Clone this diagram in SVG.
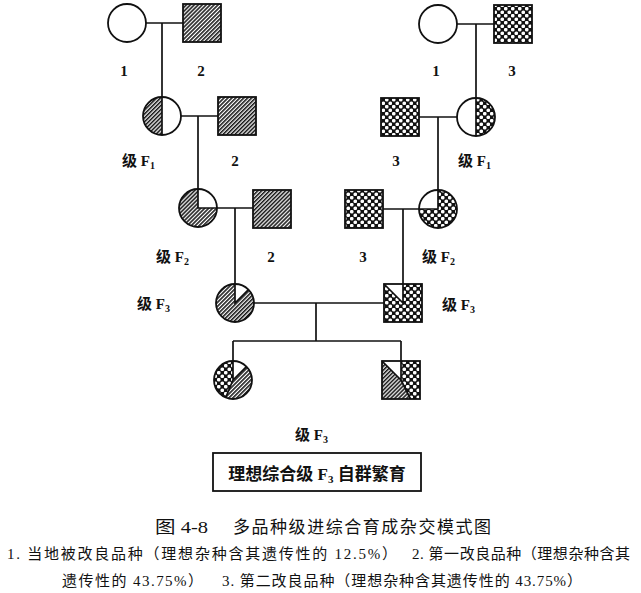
<svg xmlns="http://www.w3.org/2000/svg" width="641" height="593" viewBox="0 0 641 593">
<style>
.ln{stroke:#111;stroke-width:1.7;fill:none}
.ol{stroke:#111;stroke-width:1.8;fill:none}
.ht{fill:url(#hatch)}
.cx{fill:url(#cross)}
.lbl{font-family:"Liberation Serif","Noto Sans CJK SC",serif;font-size:15px;font-weight:bold;fill:#111}
.cap{font-family:"Liberation Serif","Noto Sans CJK SC",serif;font-size:15px;fill:#111}
.ttl{font-family:"Liberation Serif","Noto Sans CJK SC",serif;font-size:17px;fill:#111}
.box{font-family:"Liberation Serif","Noto Sans CJK SC",serif;font-size:17px;font-weight:bold;fill:#111}
</style>
<defs>
<pattern id="hatch" width="2.8" height="2.8" patternUnits="userSpaceOnUse" patternTransform="rotate(45)">
<rect width="2.8" height="2.8" fill="#fff"/>
<line x1="0.8" y1="0" x2="0.8" y2="2.8" stroke="#1a1a1a" stroke-width="1.6"/>
</pattern>
<pattern id="cross" width="7" height="7" patternUnits="userSpaceOnUse">
<rect width="7" height="7" fill="#111"/>
<circle cx="1.75" cy="1.75" r="1.85" fill="#fff"/>
<circle cx="5.25" cy="5.25" r="1.85" fill="#fff"/>
</pattern>
</defs>
<rect width="641" height="593" fill="#fff"/>

<g id="connectors">
<line class="ln" x1="146" y1="23" x2="183" y2="23"/>
<line class="ln" x1="162" y1="23" x2="162" y2="97"/>
<line class="ln" x1="181" y1="116" x2="218" y2="116"/>
<line class="ln" x1="198" y1="116" x2="198" y2="189"/>
<line class="ln" x1="217" y1="208" x2="253" y2="208"/>
<line class="ln" x1="235" y1="208" x2="235" y2="284"/>
<line class="ln" x1="457" y1="24" x2="494" y2="24"/>
<line class="ln" x1="476" y1="24" x2="476" y2="98"/>
<line class="ln" x1="419" y1="117" x2="457" y2="117"/>
<line class="ln" x1="438" y1="117" x2="438" y2="190"/>
<line class="ln" x1="383" y1="209" x2="419" y2="209"/>
<line class="ln" x1="403" y1="209" x2="403" y2="284"/>
<line class="ln" x1="254" y1="303" x2="384" y2="303"/>
<line class="ln" x1="316" y1="303" x2="316" y2="341"/>
<line class="ln" x1="233" y1="341" x2="401" y2="341"/>
<line class="ln" x1="233" y1="341" x2="233" y2="361"/>
<line class="ln" x1="401" y1="341" x2="401" y2="361"/>
</g>

<g id="p1-left">
<circle class="ol" cx="127" cy="23" r="19" style="fill:#fff"/>
<text class="lbl" x="124" y="76" text-anchor="middle">1</text>
</g>
<g id="p2-top">
<rect class="ht" x="183" y="4" width="38" height="38"/>
<rect class="ol" x="183" y="4" width="38" height="38"/>
<text class="lbl" x="201" y="76" text-anchor="middle">2</text>
</g>
<g id="f1-left">
<circle cx="162" cy="116" r="19" fill="#fff"/>
<path class="ht" d="M162,97 A19,19 0 0 0 162,135 Z"/>
<line class="ln" x1="162" y1="97" x2="162" y2="135"/>
<circle class="ol" cx="162" cy="116" r="19"/>
<text class="lbl" x="122" y="166">级 F<tspan font-size="10" dy="3">1</tspan></text>
</g>
<g id="p2-mid">
<rect class="ht" x="218" y="97" width="38" height="38"/>
<rect class="ol" x="218" y="97" width="38" height="38"/>
<text class="lbl" x="235" y="166" text-anchor="middle">2</text>
</g>
<g id="f2-left">
<circle cx="198" cy="208" r="19" fill="#fff"/>
<path class="ht" d="M198,208 L198,189 A19,19 0 1 0 217,208 Z"/>
<path class="ln" d="M198,189 L198,208 L217,208"/>
<circle class="ol" cx="198" cy="208" r="19"/>
<text class="lbl" x="156" y="262">级 F<tspan font-size="10" dy="3">2</tspan></text>
</g>
<g id="p2-low">
<rect class="ht" x="253" y="190" width="38" height="38"/>
<rect class="ol" x="253" y="190" width="38" height="38"/>
<text class="lbl" x="271" y="262" text-anchor="middle">2</text>
</g>
<g id="f3-left">
<circle cx="235" cy="303" r="19" fill="#fff"/>
<path class="ht" d="M235,303 L248.43,289.57 A19,19 0 1 1 235,284 Z"/>
<path class="ln" d="M235,284 L235,303 L248.43,289.57"/>
<circle class="ol" cx="235" cy="303" r="19"/>
<text class="lbl" x="137" y="309">级 F<tspan font-size="10" dy="3">3</tspan></text>
</g>

<g id="p1-right">
<circle class="ol" cx="438" cy="24" r="19" style="fill:#fff"/>
<text class="lbl" x="436" y="76" text-anchor="middle">1</text>
</g>
<g id="p3-top">
<rect class="cx" x="494" y="5" width="38" height="38"/>
<rect class="ol" x="494" y="5" width="38" height="38"/>
<text class="lbl" x="512" y="76" text-anchor="middle">3</text>
</g>
<g id="f1-right">
<circle cx="476" cy="117" r="19" fill="#fff"/>
<path class="cx" d="M476,98 A19,19 0 0 1 476,136 Z"/>
<line class="ln" x1="476" y1="98" x2="476" y2="136"/>
<circle class="ol" cx="476" cy="117" r="19"/>
<text class="lbl" x="458" y="166">级 F<tspan font-size="10" dy="3">1</tspan></text>
</g>
<g id="p3-mid">
<rect class="cx" x="381" y="98" width="38" height="38"/>
<rect class="ol" x="381" y="98" width="38" height="38"/>
<text class="lbl" x="396" y="166" text-anchor="middle">3</text>
</g>
<g id="f2-right">
<circle cx="438" cy="209" r="19" fill="#fff"/>
<path class="cx" d="M438,209 L419,209 A19,19 0 1 0 438,190 Z"/>
<path class="ln" d="M419,209 L438,209 L438,190"/>
<circle class="ol" cx="438" cy="209" r="19"/>
<text class="lbl" x="422" y="262">级 F<tspan font-size="10" dy="3">2</tspan></text>
</g>
<g id="p3-low">
<rect class="cx" x="345" y="190" width="38" height="38"/>
<rect class="ol" x="345" y="190" width="38" height="38"/>
<text class="lbl" x="363" y="262" text-anchor="middle">3</text>
</g>
<g id="f3-right">
<rect class="cx" x="384" y="284" width="38" height="38"/>
<path d="M384,284 L403,284 L403,303 Z" fill="#fff"/>
<path class="ln" d="M384,284 L403,303 L403,284"/>
<rect class="ol" x="384" y="284" width="38" height="38"/>
<text class="lbl" x="442" y="310">级 F<tspan font-size="10" dy="3">3</tspan></text>
</g>

<g id="offspring-circle">
<circle cx="233" cy="380" r="19" fill="#fff"/>
<path class="ht" d="M233,380 L246.44,366.57 A19,19 0 0 1 225.73,397.55 Z"/>
<path class="cx" d="M233,380 L225.73,397.55 A19,19 0 0 1 233,361 Z"/>
<path class="ln" d="M233,361 L233,380 L246.44,366.57 M233,380 L225.73,397.55"/>
<circle class="ol" cx="233" cy="380" r="19"/>
</g>
<g id="offspring-square">
<rect x="382" y="361" width="38" height="38" fill="#fff"/>
<path class="ht" d="M401,380 L382,361 L382,399 L410.5,399 Z"/>
<path class="cx" d="M401,380 L401,361 L420,361 L420,399 L410.5,399 Z"/>
<path class="ln" d="M401,361 L401,380 L382,361 M401,380 L410.5,399"/>
<rect class="ol" x="382" y="361" width="38" height="38"/>
</g>

<g id="result">
<text class="lbl" x="295" y="440">级 F<tspan font-size="10" dy="3">3</tspan></text>
<rect class="ol" x="213" y="453" width="208" height="38"/>
<text class="box" x="317" y="480" text-anchor="middle">理想综合级 F<tspan font-size="11" dy="3">3</tspan><tspan dy="-3"> 自群繁育</tspan></text>
</g>

<g id="caption">
<text class="ttl" x="155" y="533" textLength="53" lengthAdjust="spacingAndGlyphs">图 4-8</text>
<text class="ttl" x="233" y="533" textLength="258" lengthAdjust="spacing">多品种级进综合育成杂交模式图</text>
<text class="cap" x="7" y="559" textLength="390" lengthAdjust="spacing">1. 当地被改良品种（理想杂种含其遗传性的 12.5%）</text>
<text class="cap" x="412" y="559" textLength="218" lengthAdjust="spacing">2. 第一改良品种（理想杂种含其</text>
<text class="cap" x="62" y="586" textLength="141" lengthAdjust="spacing">遗传性的 43.75%）</text>
<text class="cap" x="222" y="586" textLength="360" lengthAdjust="spacing">3. 第二改良品种（理想杂种含其遗传性的 43.75%）</text>
</g>
</svg>
